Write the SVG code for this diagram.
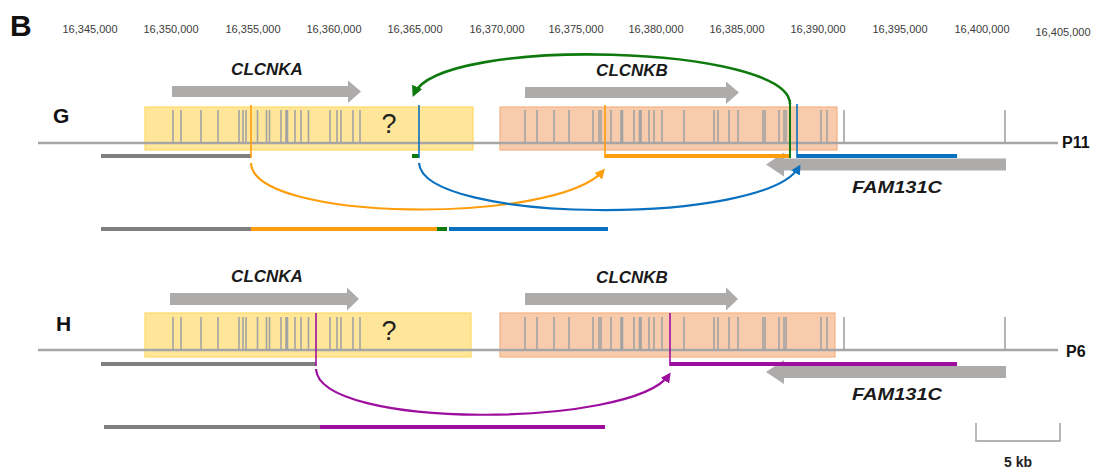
<svg xmlns="http://www.w3.org/2000/svg" width="1094" height="470" viewBox="0 0 1094 470">
<style>
text{font-family:"Liberation Sans",Arial,sans-serif}
.coord{font-size:11px;fill:#3c3c3c;text-anchor:middle}
.panel{font-size:21px;font-weight:bold;fill:#111}
.gene{font-size:17px;font-weight:bold;font-style:italic;fill:#1a1a1a;text-anchor:middle}
.pt{font-size:16px;font-weight:bold;fill:#111}
.q{font-size:27px;fill:#222;text-anchor:middle}
.chr{stroke:#a6a6a6;stroke-width:2.5;fill:none}
.exon{stroke:#a3a3a3;stroke-width:1.6;fill:none}
.boxA{fill:#ffe699;stroke:#ffd966;stroke-width:1.2}
.boxB{fill:#f8cbad;stroke:#f4b183;stroke-width:1.2}
.garrow{fill:#aeabab}
.seg{stroke-width:4;fill:none}
.bp{stroke-width:1.6;fill:none}
.grey{stroke:#7f7f7f}
.or{stroke:#ff9e0c}
.bl{stroke:#0a70c0}
.gr{stroke:#0e7a0e}
.pu{stroke:#9e0e9e}
.arc{fill:none;stroke-width:2.2}
.scale{stroke:#9a9a9a;stroke-width:1.4;fill:none}
</style>
<defs>
  <marker id="ah-or" viewBox="0 0 10 10" refX="7" refY="5" markerWidth="10" markerHeight="10" markerUnits="userSpaceOnUse" orient="auto"><path d="M0,0 L10,5 L0,10 z" fill="#ff9e0c"/></marker>
  <marker id="ah-bl" viewBox="0 0 10 10" refX="7" refY="5" markerWidth="10" markerHeight="10" markerUnits="userSpaceOnUse" orient="auto"><path d="M0,0 L10,5 L0,10 z" fill="#0a70c0"/></marker>
  <marker id="ah-gr" viewBox="0 0 10 10" refX="7" refY="5" markerWidth="11" markerHeight="11" markerUnits="userSpaceOnUse" orient="auto"><path d="M0,0 L10,5 L0,10 z" fill="#0e7a0e"/></marker>
  <marker id="ah-pu" viewBox="0 0 10 10" refX="7" refY="5" markerWidth="10" markerHeight="10" markerUnits="userSpaceOnUse" orient="auto"><path d="M0,0 L10,5 L0,10 z" fill="#9e0e9e"/></marker>
  <!-- exon ticks, relative to the chromosome line at y=0 -->
  <path id="exons" class="exon" d="M173,-33V0M181,-33V0M201,-33V0M218,-33V0M239,-33V0M243,-33V0M246,-33V0M257.5,-33V0M266.5,-33V0M269.5,-33V0M281,-33V0M286,-33V0M287.5,-33V0M295,-33V0M301,-33V0M308.5,-33V0M330,-33V0M337,-33V0M341,-33V0M353,-33V0M360,-33V0
    M525,-33V0M537,-33V0M554,-33V0M569,-33V0M593,-33V0M599,-33V0M601,-33V0M611,-33V0M621,-33V0M622.5,-33V0M634,-33V0M639.5,-33V0M641,-33V0M649,-33V0M654,-33V0M662,-33V0M684,-33V0M714,-33V0M718,-33V0M729,-33V0M738,-33V0M763,-33V0M765,-33V0M779,-33V0M784,-33V0M786,-33V0M821,-33V0M827,-33V0M844,-33V0M1005,-33V0"/>
</defs>

<rect width="1094" height="470" fill="#fff"/>

<text x="10" y="36" style="font-size:30px;font-weight:bold;fill:#111">B</text>

<!-- genomic coordinate axis -->
<g id="axis">
  <text class="coord" x="90" y="33">16,345,000</text>
  <text class="coord" x="171" y="33">16,350,000</text>
  <text class="coord" x="253" y="33">16,355,000</text>
  <text class="coord" x="334" y="33">16,360,000</text>
  <text class="coord" x="415" y="33">16,365,000</text>
  <text class="coord" x="497" y="33">16,370,000</text>
  <text class="coord" x="576" y="33">16,375,000</text>
  <text class="coord" x="656" y="33">16,380,000</text>
  <text class="coord" x="737" y="33">16,385,000</text>
  <text class="coord" x="818" y="33">16,390,000</text>
  <text class="coord" x="900" y="33">16,395,000</text>
  <text class="coord" x="982" y="33">16,400,000</text>
  <text class="coord" x="1063" y="36">16,405,000</text>
</g>

<!-- ===== Panel G : patient P11 ===== -->
<g id="panel-G">
  <text class="panel" x="53" y="123">G</text>
  <g id="G-clcnka">
    <rect class="boxA" x="145" y="107" width="328" height="43"/>
    <path class="garrow" d="M172,86H348V80.5L361,91.5L348,103V97H172z"/>
    <text class="gene" x="267" y="75">CLCNKA</text>
    <text class="q" x="389" y="133">?</text>
  </g>
  <g id="G-clcnkb">
    <rect class="boxB" x="500" y="107" width="337" height="43"/>
    <path class="garrow" d="M525,87H726V81.5L739,92.5L726,104V98H525z"/>
    <text class="gene" x="632" y="76">CLCNKB</text>
  </g>
  <g id="G-chromosome">
    <path class="chr" d="M38,143H1058"/>
    <use href="#exons" transform="translate(0,143)"/>
    <text class="pt" x="1062" y="148">P11</text>
  </g>
  <g id="G-fam131c">
    <path class="garrow" d="M1006,158.5H784V152.5L766,164.5L784,176.5V170.5H1006z"/>
    <text class="gene" x="897" y="193" textLength="90" lengthAdjust="spacingAndGlyphs">FAM131C</text>
  </g>
  <g id="G-breakpoints">
    <path class="seg grey" d="M101,156H251"/>
    <path class="bp or" d="M251,105V158"/>
    <path class="seg gr" d="M412,156H419"/>
    <path class="bp bl" d="M419,105V158"/>
    <path class="seg or" d="M605,156H790"/>
    <path class="bp or" d="M605,105V158"/>
    <path class="seg bl" d="M797,156H957"/>
    <path class="bp bl" d="M797,104V158"/>
    <path class="gr" style="stroke-width:2;fill:none" d="M790,100V158"/>
  </g>
  <g id="G-derived">
    <path class="seg grey" d="M101,229H251"/>
    <path class="seg or" d="M251,229H437"/>
    <path class="seg gr" d="M437,229H447"/>
    <path class="seg bl" d="M449,229H608"/>
  </g>
</g>

<!-- ===== Panel H : patient P6 ===== -->
<g id="panel-H">
  <text class="panel" x="56" y="331">H</text>
  <g id="H-clcnka">
    <rect class="boxA" x="145" y="313" width="326" height="44"/>
    <path class="garrow" d="M170,293H347V287.5L359,299L347,310.5V305H170z"/>
    <text class="gene" x="267" y="282">CLCNKA</text>
    <text class="q" x="389" y="340">?</text>
  </g>
  <g id="H-clcnkb">
    <rect class="boxB" x="500" y="313" width="335" height="44"/>
    <path class="garrow" d="M525,293H726V287.5L738,299L726,310.5V305H525z"/>
    <text class="gene" x="632" y="283">CLCNKB</text>
  </g>
  <g id="H-chromosome">
    <path class="chr" d="M38,350H1058"/>
    <use href="#exons" transform="translate(0,350)"/>
    <text class="pt" x="1066" y="357">P6</text>
  </g>
  <g id="H-fam131c">
    <path class="garrow" d="M1006,366H784V360L766,372L784,384V378H1006z"/>
    <text class="gene" x="897" y="400" textLength="90" lengthAdjust="spacingAndGlyphs">FAM131C</text>
  </g>
  <g id="H-breakpoints">
    <path class="seg grey" d="M101,364H316"/>
    <path class="bp pu" d="M316,313V366"/>
    <path class="seg pu" d="M670,364H957"/>
    <path class="bp pu" d="M670,313V366"/>
  </g>
  <g id="H-derived">
    <path class="seg grey" d="M104,427H320"/>
    <path class="seg pu" d="M320,427H605"/>
  </g>
</g>

<!-- junction connectors -->
<g id="connectors">
  <path class="arc or" d="M251,163C253,222 555,225 603,171" marker-end="url(#ah-or)"/>
  <path class="arc bl" d="M419,163C423,224 765,226 799,167" marker-end="url(#ah-bl)"/>
  <path class="arc gr" style="stroke-width:2.6" d="M790,104C790,45 440,35 414,94" marker-end="url(#ah-gr)"/>
  <path class="arc pu" d="M316,369C319,430 632,428 669,375" marker-end="url(#ah-pu)"/>
</g>

<!-- scale bar -->
<g id="scale-bar">
  <path class="scale" d="M976,423V441H1060V423"/>
  <text x="1018" y="467" style="font-size:14px;font-weight:bold;fill:#222;text-anchor:middle">5 kb</text>
</g>
</svg>
